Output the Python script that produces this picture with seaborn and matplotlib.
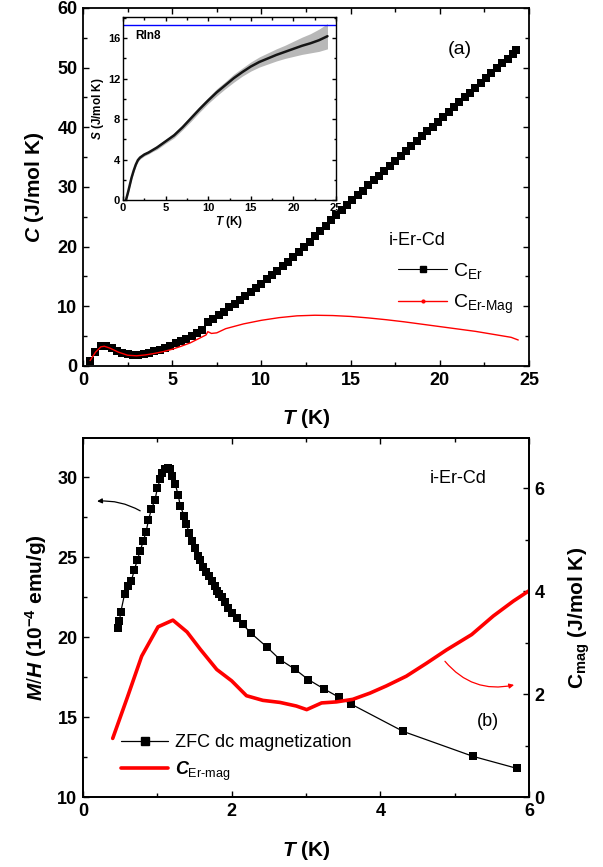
import numpy as np
import pandas as pd
import matplotlib
matplotlib.use("Agg")
import matplotlib.pyplot as plt
import seaborn as sns
from matplotlib.lines import Line2D
from matplotlib.ticker import MultipleLocator

# ---------------- data: panel (a) ----------------
T_ER = [0.4, 0.7, 1.0, 1.3, 1.6, 1.9, 2.2, 2.5, 2.8, 3.1,
        3.4, 3.7, 4.0, 4.3, 4.6, 4.9, 5.2, 5.5, 5.8, 6.1,
        6.4, 6.7, 7.0, 7.3, 7.6, 7.9, 8.2, 8.5, 8.8, 9.1,
        9.4, 9.7, 10.0, 10.3, 10.6, 10.9, 11.2, 11.5, 11.8, 12.1,
        12.4, 12.7, 13.0, 13.3, 13.6, 13.9, 14.2, 14.5, 14.8, 15.1,
        15.4, 15.7, 16.0, 16.3, 16.6, 16.9, 17.2, 17.5, 17.8, 18.1,
        18.4, 18.7, 19.0, 19.3, 19.6, 19.9, 20.2, 20.5, 20.8, 21.1,
        21.4, 21.7, 22.0, 22.3, 22.6, 22.9, 23.2, 23.5, 23.8, 24.1,
        24.3]
C_ER = [0.9, 2.3, 3.3, 3.4, 3.0, 2.5, 2.1, 1.95, 1.9, 1.9,
        2.0, 2.2, 2.45, 2.7, 3.0, 3.4, 3.8, 4.2, 4.6, 5.1,
        5.6, 6.0, 7.4, 7.9, 8.5, 9.1, 9.8, 10.4, 11.0, 11.7,
        12.4, 13.1, 13.8, 14.5, 15.2, 15.9, 16.7, 17.5, 18.3, 19.1,
        19.9, 20.8, 21.7, 22.6, 23.5, 24.4, 25.3, 26.2, 27.0, 27.8,
        28.6, 29.4, 30.3, 31.1, 31.9, 32.7, 33.5, 34.4, 35.2, 36.0,
        36.8, 37.7, 38.5, 39.3, 40.1, 40.9, 41.7, 42.6, 43.4, 44.2,
        45.0, 45.8, 46.6, 47.5, 48.3, 49.1, 49.9, 50.7, 51.5, 52.3,
        52.9]

T_MAG = [0.4, 0.7, 1.0, 1.2, 1.5, 2.0, 2.5, 3.0, 3.5, 4.0, 4.5, 5.0, 5.5, 6.0,
         6.5, 6.9, 7.0, 7.2, 7.5, 8.0, 9.0, 10.0, 11.0, 12.0, 13.0, 14.0, 15.0,
         16.0, 17.0, 18.0, 19.0, 20.0, 21.0, 22.0, 23.0, 24.0, 24.4]
C_MAG = [0.9, 2.3, 3.2, 3.3, 3.0, 2.3, 1.8, 1.7, 1.85, 2.1, 2.4, 2.8, 3.3, 3.85,
         4.6, 5.2, 5.75, 5.45, 5.55, 6.25, 7.05, 7.65, 8.1, 8.4, 8.5, 8.45, 8.3,
         8.05, 7.75, 7.4, 7.0, 6.6, 6.2, 5.8, 5.3, 4.8, 4.35]

# inset: entropy
T_S = [0.35, 0.6, 0.8, 1.0, 1.25, 1.5, 1.75, 2.0, 2.5, 3.0, 3.5, 4.0, 5.0, 6.0,
       7.0, 8.0, 9.0, 10.0, 11.0, 12.0, 13.0, 14.0, 15.0, 16.0, 17.0, 18.0,
       19.0, 20.0, 21.0, 22.0, 23.0, 24.0]
S_VAL = [0.0, 0.8, 1.5, 2.2, 2.9, 3.5, 3.95, 4.2, 4.5, 4.7, 4.95, 5.2, 5.8, 6.4,
         7.2, 8.1, 9.0, 9.85, 10.65, 11.35, 12.05, 12.65, 13.2, 13.65, 14.0, 14.35,
         14.65, 14.95, 15.25, 15.5, 15.8, 16.2]
S_ERR = [0.1, 0.15, 0.15, 0.15, 0.15, 0.15, 0.15, 0.15, 0.15, 0.15, 0.15, 0.2, 0.2, 0.25,
         0.25, 0.3, 0.3, 0.3, 0.35, 0.35, 0.4, 0.4, 0.45, 0.5, 0.55, 0.6,
         0.65, 0.75, 0.85, 0.95, 1.1, 1.25]
RLN8 = 17.29

# ---------------- data: panel (b) ----------------
T_ZFC = [0.47, 0.49, 0.51, 0.56, 0.61, 0.65, 0.69, 0.73, 0.77, 0.81,
         0.85, 0.88, 0.92, 0.97, 1.00, 1.04, 1.06, 1.10, 1.14, 1.17,
         1.20, 1.24, 1.28, 1.31, 1.36, 1.39, 1.43, 1.47, 1.51, 1.55,
         1.58, 1.61, 1.65, 1.69, 1.73, 1.77, 1.80, 1.83, 1.87, 1.91,
         1.95, 2.01, 2.07, 2.15, 2.26, 2.47, 2.65, 2.85, 3.03, 3.24,
         3.44, 3.60, 4.31, 5.25, 5.84]
M_ZFC = [20.6, 21.0, 21.6, 22.7, 23.2, 23.5, 24.2, 24.8, 25.4, 26.0,
         26.6, 27.3, 28.0, 28.6, 29.3, 29.9, 30.25, 30.5, 30.6, 30.5,
         30.1, 29.6, 28.9, 28.2, 27.6, 27.1, 26.5, 26.0, 25.6, 25.1,
         24.8, 24.4, 24.1, 23.8, 23.5, 23.2, 22.9, 22.7, 22.5, 22.2,
         21.8, 21.5, 21.2, 20.8, 20.25, 19.4, 18.6, 18.0, 17.35, 16.77,
         16.25, 15.83, 14.1, 12.54, 11.79]

T_CM = [0.40, 0.60, 0.79, 1.01, 1.21, 1.40, 1.58, 1.80, 2.00, 2.20, 2.42, 2.65, 2.87,
        3.01, 3.21, 3.41, 3.63, 3.86, 4.08, 4.35, 4.62, 4.89, 5.23, 5.52, 5.79, 6.01]
CM_VAL = [1.14, 1.95, 2.74, 3.31, 3.44, 3.21, 2.87, 2.48, 2.26, 1.97, 1.88, 1.84, 1.77,
          1.70, 1.83, 1.85, 1.90, 2.02, 2.16, 2.35, 2.60, 2.86, 3.16, 3.52, 3.81, 4.02]

# ---------------- style ----------------
sns.set_theme(style="ticks")
plt.rcParams["font.family"] = ["Liberation Sans", "DejaVu Sans"]
plt.rcParams.update({
    "mathtext.fontset": "custom",
    "mathtext.rm": "Liberation Sans",
    "mathtext.it": "Liberation Sans:italic:bold",
    "mathtext.bf": "Liberation Sans:bold",
    "xtick.direction": "in",
    "ytick.direction": "in",
    "axes.linewidth": 1.3,
    "axes.edgecolor": "black",
    "xtick.color": "black",
    "ytick.color": "black",
    "text.color": "black",
    "axes.labelcolor": "black",
})

fig = plt.figure(figsize=(6.03, 8.67), dpi=100)
axA = fig.add_axes([0.1376, 0.5779, 0.7396, 0.4129])
axI = fig.add_axes([0.204, 0.7693, 0.3532, 0.2111])
axB = fig.add_axes([0.1376, 0.0807, 0.7396, 0.414])
axB2 = axB.twinx()


def style_ticks(ax, size=12, major=4.5, minor=2.8, **kw):
    ax.tick_params(which="both", direction="in", width=1.0, **kw)
    ax.tick_params(which="major", length=major, labelsize=size, pad=4)
    ax.tick_params(which="minor", length=minor)
    for lab in ax.get_xticklabels() + ax.get_yticklabels():
        lab.set_fontweight("bold")


# ---- panel (a) ----
dfA = pd.DataFrame({"T": T_ER, "C": C_ER})
dfM = pd.DataFrame({"T": T_MAG, "C": C_MAG})
sns.lineplot(data=dfA, x="T", y="C", ax=axA, color="black", marker="s",
             markersize=5.5, markeredgewidth=0, linewidth=0.8, sort=False)
sns.lineplot(data=dfM, x="T", y="C", ax=axA, color="red", linewidth=1.0, sort=False)
axA.set_xlim(0, 25)
axA.set_ylim(0, 60)
axA.xaxis.set_major_locator(MultipleLocator(5))
axA.xaxis.set_minor_locator(MultipleLocator(2.5))
axA.yaxis.set_major_locator(MultipleLocator(10))
axA.yaxis.set_minor_locator(MultipleLocator(5))
axA.tick_params(top=True, right=True, which="both")
style_ticks(axA, size=13)
axA.set_xlabel(r"$T$ (K)", fontsize=15, fontweight="bold", labelpad=13)
axA.set_ylabel(r"$C$ (J/mol K)", fontsize=15, fontweight="bold", labelpad=8)
axA.text(21.1, 53, "(a)", fontsize=14, ha="center", va="center")
hA = [Line2D([], [], color="black", marker="s", markersize=4.3, lw=0.8),
      Line2D([], [], color="red", marker=".", markersize=4, lw=1.0)]
legA = axA.legend(hA, [r"C$_{\rm Er}$", r"C$_{\rm Er\text{-}Mag}$"], title="i-Er-Cd",
                  loc="upper left", bbox_to_anchor=(0.69, 0.395), frameon=False,
                  fontsize=14, title_fontsize=13, handlelength=2.5,
                  handletextpad=0.3, labelspacing=0.6, borderaxespad=0)
legA._legend_box.align = "left"
legA.get_title().set_position((-10, 0))

# ---- inset ----
S_lo = [s - e for s, e in zip(S_VAL, S_ERR)]
S_hi = [s + e for s, e in zip(S_VAL, S_ERR)]
axI.fill_between(T_S, S_lo, S_hi, color="#b8b8b8", lw=0)
sns.lineplot(x=T_S, y=S_VAL, ax=axI, color="#151515", linewidth=1.8, sort=False)
axI.axhline(RLN8, color="blue", lw=1.0)
axI.set_xlim(0, 25)
axI.set_ylim(0, 18.1)
axI.xaxis.set_major_locator(MultipleLocator(5))
axI.xaxis.set_minor_locator(MultipleLocator(2.5))
axI.yaxis.set_major_locator(MultipleLocator(4))
axI.yaxis.set_minor_locator(MultipleLocator(2))
axI.tick_params(top=True, right=True, which="both")
style_ticks(axI, size=8, major=3, minor=1.8)
axI.tick_params(which="major", pad=2)
for sp in axI.spines.values():
    sp.set_linewidth(1.0)
axI.set_xlabel(r"$T$ (K)", fontsize=8.5, fontweight="bold", labelpad=1)
axI.set_ylabel(r"$S$ (J/mol K)", fontsize=8.5, fontweight="bold", labelpad=1)
axI.text(1.4, 16.2, "Rln8", fontsize=8.5, fontweight="bold", va="center")

# ---- panel (b) ----
dfZ = pd.DataFrame({"T": T_ZFC, "M": M_ZFC})
dfC = pd.DataFrame({"T": T_CM, "C": CM_VAL})
sns.lineplot(data=dfZ, x="T", y="M", ax=axB, color="black", marker="s",
             markersize=5.2, markeredgewidth=0, linewidth=0.9, sort=False)
sns.lineplot(data=dfC, x="T", y="C", ax=axB2, color="red", linewidth=2.6, sort=False)
axB.set_xlim(0, 6)
axB.set_ylim(10, 32.45)
axB2.set_ylim(0, 6.98)
axB.xaxis.set_major_locator(MultipleLocator(2))
axB.xaxis.set_minor_locator(MultipleLocator(1))
axB.yaxis.set_major_locator(MultipleLocator(5))
axB.yaxis.set_minor_locator(MultipleLocator(2.5))
axB2.yaxis.set_major_locator(MultipleLocator(2))
axB2.yaxis.set_minor_locator(MultipleLocator(1))
axB.tick_params(top=True, right=False, which="both")
axB2.tick_params(left=False, right=True, which="both")
style_ticks(axB, size=13)
style_ticks(axB2, size=13)
axB.set_xlabel(r"$T$ (K)", fontsize=15, fontweight="bold", labelpad=14)
axB.set_ylabel(r"$M/H$ (10$^{\mathbf{-4}}$ emu/g)", fontsize=15, fontweight="bold", labelpad=6)
axB2.set_ylabel(r"C$_{\mathbf{mag}}$ (J/mol K)", fontsize=15, fontweight="bold", labelpad=16)
axB.text(5.05, 29.95, "i-Er-Cd", fontsize=13, ha="center", va="center")
axB.text(5.45, 14.75, "(b)", fontsize=13, ha="center", va="center")

axB.annotate("", xy=(0.19, 28.5), xytext=(0.77, 27.9),
             arrowprops=dict(arrowstyle="-|>", color="black", lw=0.9,
                             mutation_scale=7, shrinkA=0, shrinkB=0,
                             connectionstyle="arc3,rad=0.15"))
axB2.annotate("", xy=(5.8, 2.18), xytext=(4.87, 2.64),
              arrowprops=dict(arrowstyle="-|>", color="red", lw=0.9,
                              mutation_scale=7, shrinkA=0, shrinkB=0,
                              connectionstyle="arc3,rad=0.3"))

hB = [Line2D([], [], color="black", marker="s", markersize=5.2, lw=0.9),
      Line2D([], [], color="red", lw=2.6)]
axB2.legend(hB, ["ZFC dc magnetization", r"$C_{\rm Er\text{-}mag}$"],
            loc="lower left", bbox_to_anchor=(0.07, 0.02), frameon=False,
            fontsize=13, handlelength=2.6, handletextpad=0.35, labelspacing=0.45,
            borderaxespad=0)

fig.savefig("out.png", dpi=100)
